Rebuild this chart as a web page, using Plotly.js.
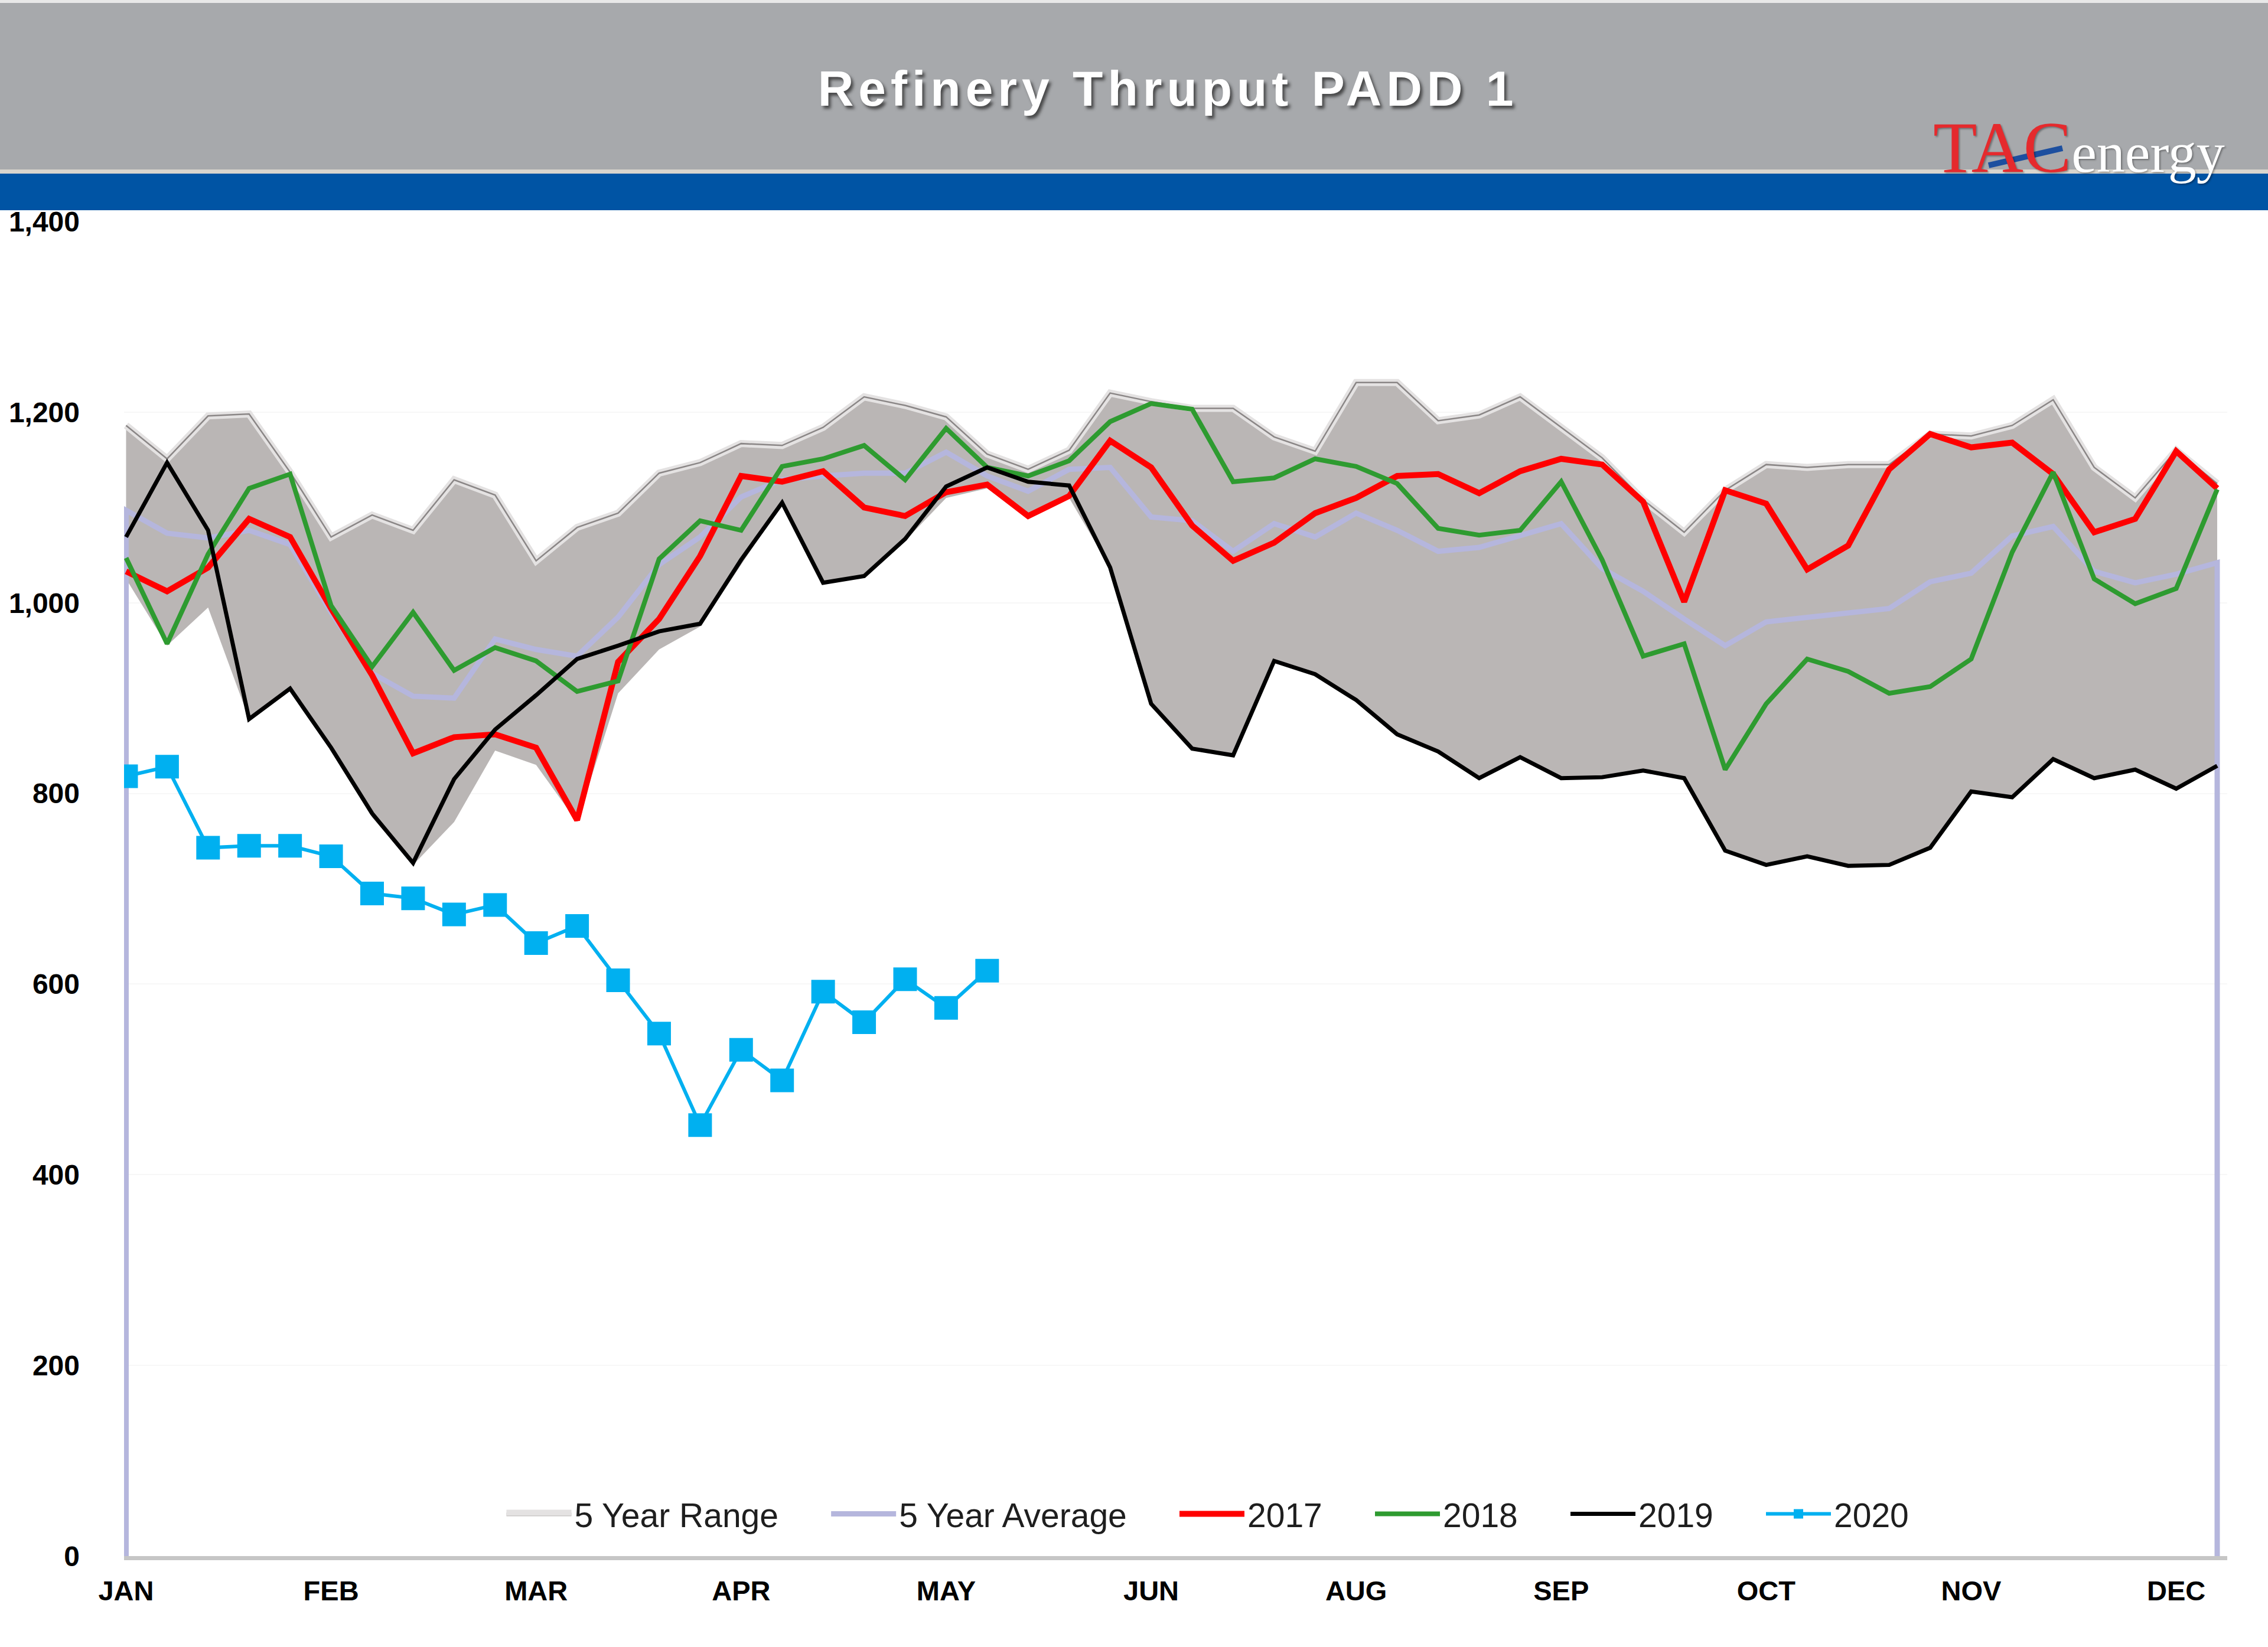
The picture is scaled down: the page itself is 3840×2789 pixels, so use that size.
<!DOCTYPE html>
<html>
<head>
<meta charset="utf-8">
<script src="https://cdn.plot.ly/plotly-3.0.1.min.js"></script>
<style>html,body{margin:0;padding:0;background:#ffffff;}</style>
</head>
<body>
<div id="chart" style="width:3840px;height:2789px"></div>
<script>
// ---- data (kb/d, weekly) ----
const weeks = [1,2,3,4,5,6,7,8,9,10,11,12,13,14,15,16,17,18,19,20,21,22,23,24,25,26,27,28,29,30,31,32,33,34,35,36,37,38,39,40,41,42,43,44,45,46,47,48,49,50,51,52];
const tickWeeks = [1,6,11,16,21,26,31,36,41,46,51];
const monthLabels = ['JAN','FEB','MAR','APR','MAY','JUN','AUG','SEP','OCT','NOV','DEC'];
const seriesNames = ['5 Year Range','5 Year Average','2017','2018','2019','2020'];

const rangeLow = [1025,955,995,878,910,848,775,725,770,845,830,770,905,951,975,1040,1104,1021,1027,1065,1110,1120,1088,1110,1037,893,846,839,939,925,896,862,844,816,837,816,816,822,815,739,725,734,723,725,742,802,795,836,816,825,805,828];
const rangeHigh = [1186,1151,1196,1198,1137,1069,1092,1076,1129,1113,1044,1079,1094,1136,1147,1167,1165,1184,1216,1207,1195,1156,1140,1160,1220,1211,1204,1204,1174,1159,1231,1231,1191,1197,1216,1184,1152,1108,1074,1118,1145,1142,1145,1145,1177,1175,1186,1213,1142,1110,1160,1125];
const avg5 = [1097,1073,1068,1076,1061,990,926,902,900,962,951,944,985,1040,1069,1111,1129,1133,1136,1136,1158,1133,1117,1140,1142,1090,1086,1054,1083,1069,1094,1076,1054,1058,1071,1083,1036,1012,983,955,980,985,990,994,1022,1031,1070,1080,1033,1021,1030,1042];
const y2017 = [1033,1012,1037,1088,1069,994,924,842,859,862,848,772,938,983,1049,1133,1127,1138,1100,1091,1116,1124,1091,1112,1170,1142,1081,1044,1063,1094,1110,1133,1135,1115,1138,1151,1145,1106,1001,1118,1104,1035,1060,1140,1177,1163,1168,1135,1074,1088,1159,1120];
const y2018 = [1047,957,1051,1120,1135,997,933,990,929,953,939,907,918,1046,1086,1076,1143,1151,1165,1129,1183,1142,1133,1149,1190,1209,1203,1127,1131,1151,1143,1125,1078,1071,1076,1127,1045,944,957,825,894,941,928,905,912,941,1053,1137,1025,999,1015,1119];
const y2019 = [1069,1147,1076,878,910,848,779,727,815,867,903,941,955,970,978,1045,1105,1021,1028,1067,1122,1142,1127,1123,1037,894,847,840,939,925,898,862,844,816,838,816,817,824,816,740,725,734,724,725,743,802,796,836,816,825,805,829];
const y2020 = [818,828,743,745,745,734,695,690,673,683,643,661,604,548,452,531,499,592,560,605,575,614];

// ---- traces ----
const pad = '\u00a0\u00a0\u00a0\u00a0\u00a0';
const weeks2020 = weeks.slice(0, y2020.length);
const avgX = [weeks[0]].concat(weeks, [weeks[weeks.length-1]]);
const avgY = [0].concat(avg5, [0]);

const traces = [
  {x: weeks, y: rangeLow, mode: 'lines', line: {width: 0, color: 'rgba(0,0,0,0)'},
   showlegend: false, hoverinfo: 'skip'},
  {x: weeks, y: rangeHigh, mode: 'lines', fill: 'tonexty', fillcolor: '#bab6b5',
   line: {width: 12, color: '#e4e2e2'}, name: seriesNames[0] + pad, hoverinfo: 'skip'},
  {x: weeks, y: rangeHigh, mode: 'lines', line: {width: 2.5, color: '#8a8686'},
   showlegend: false, hoverinfo: 'skip'},
  {x: avgX, y: avgY, mode: 'lines', line: {width: 9, color: '#b5b6dd'}, name: seriesNames[1] + pad},
  {x: weeks, y: y2017, mode: 'lines', line: {width: 10, color: '#ff0000'}, name: seriesNames[2] + pad},
  {x: weeks, y: y2018, mode: 'lines', line: {width: 8, color: '#2e9b30'}, name: seriesNames[3] + pad},
  {x: weeks, y: y2019, mode: 'lines', line: {width: 7, color: '#000000'}, name: seriesNames[4] + pad},
  {x: weeks2020, y: y2020, mode: 'lines+markers', line: {width: 6, color: '#00b0f0'},
   marker: {symbol: 'square', size: 40, color: '#00b0f0'}, name: seriesNames[5]}
];

// paper helpers (plot area: left 210, right 3771, top 375, bottom 2635)
const L = 210, R = 3771, T = 375, B = 2635;
const px = v => (v - L) / (R - L);
const py = v => (B - v) / (B - T);

const layout = {
  width: 3840, height: 2789,
  margin: {l: L, r: 3840 - R, t: T, b: 2789 - B, autoexpand: false},
  paper_bgcolor: '#ffffff', plot_bgcolor: '#ffffff',
  font: {family: 'Liberation Sans, Arial, sans-serif', color: '#000'},
  title: {
    text: 'Refinery Thruput PADD 1',
    font: {family: 'Liberation Sans, Arial, sans-serif', size: 84, color: '#ffffff', weight: 700,
           shadow: '4px 5px 5px rgba(40,40,40,0.75)'},
    x: 0.515, xanchor: 'center', y: 1 - 150/2789, yanchor: 'middle'
  },
  xaxis: {
    range: [0.95, 52.245], tickmode: 'array', tickvals: tickWeeks, ticktext: monthLabels,
    showgrid: false, zeroline: false, showline: true, linecolor: '#c6c6c6', linewidth: 7,
    ticks: '', ticklabelstandoff: 12,
    tickfont: {family: 'Liberation Sans, Arial, sans-serif', size: 47, weight: 700, color: '#000'}
  },
  yaxis: {
    range: [0, 1400], dtick: 200, tick0: 0, tickformat: ',d',
    showgrid: true, gridcolor: '#f7f7f7', gridwidth: 2, zeroline: false, showline: false,
    ticks: '', ticklabelstandoff: 74,
    tickfont: {family: 'Liberation Sans, Arial, sans-serif', size: 48, weight: 700, color: '#000'}
  },
  legend: {
    orientation: 'h', x: px(2045), xanchor: 'center', y: py(2564), yanchor: 'middle',
    bgcolor: 'rgba(0,0,0,0)', font: {family: 'Liberation Sans, Arial, sans-serif', size: 57, color: '#1e1e1e'},
    itemwidth: 110, traceorder: 'normal'
  },
  shapes: [
    {type: 'rect', xref: 'paper', yref: 'paper', x0: px(-20), x1: px(3860), y0: py(5), y1: py(-5),
     fillcolor: '#e8e8e8', line: {width: 0}, layer: 'below'},
    {type: 'rect', xref: 'paper', yref: 'paper', x0: px(-20), x1: px(3860), y0: py(290), y1: py(5),
     fillcolor: '#a7a9ac', line: {width: 0}, layer: 'below'},
    {type: 'rect', xref: 'paper', yref: 'paper', x0: px(-20), x1: px(3860), y0: py(294), y1: py(287),
     fillcolor: '#d9d5cd', line: {width: 0}, layer: 'below'},
    {type: 'rect', xref: 'paper', yref: 'paper', x0: px(-20), x1: px(3860), y0: py(356), y1: py(294),
     fillcolor: '#0054a4', line: {width: 0}, layer: 'below'},
    {type: 'line', xref: 'paper', yref: 'paper', x0: px(3367), x1: px(3492), y0: py(280), y1: py(251),
     line: {color: '#1d4f9f', width: 10}, layer: 'above'}
  ],
  annotations: [
    {xref: 'paper', yref: 'paper', x: px(3272), xanchor: 'left', y: py(318), yanchor: 'bottom',
     showarrow: false, borderpad: 0,
     text: '<span style="color:#e52a2d;font-size:122px">TAC</span><span style="color:#ffffff;font-size:96px">energy</span>',
     font: {family: 'Liberation Serif, Times New Roman, serif', size: 96, color: '#ffffff',
            shadow: '2px 2px 3px rgba(0,0,0,0.35)'}}
  ]
};

Plotly.newPlot('chart', traces, layout, {displayModeBar: false, staticPlot: true}).then(function(){
  document.querySelectorAll('.gtitle').forEach(function(e){ e.style.letterSpacing = '8px'; });
});
</script>
</body>
</html>
